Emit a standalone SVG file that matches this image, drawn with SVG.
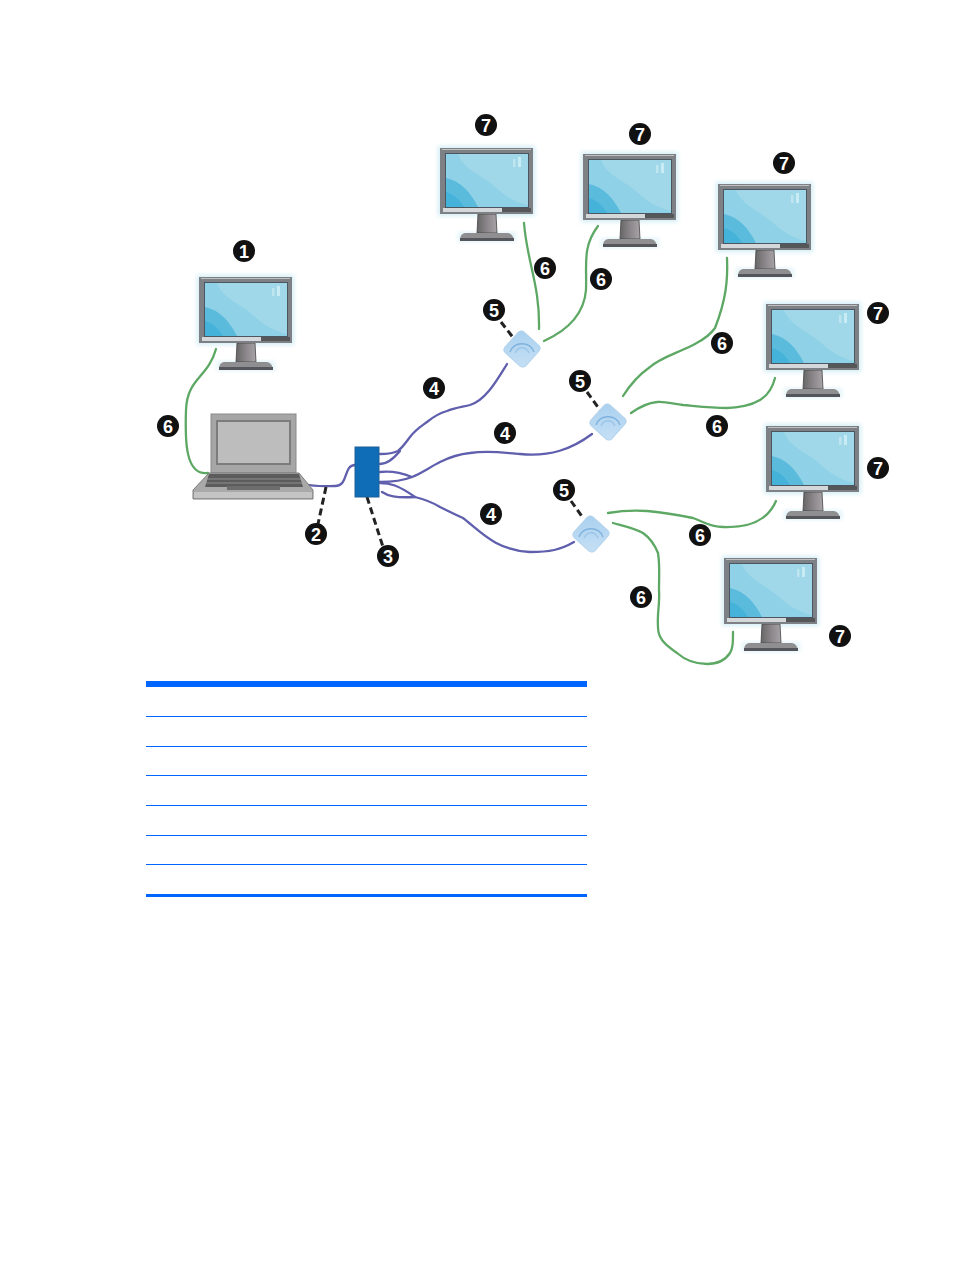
<svg xmlns="http://www.w3.org/2000/svg" width="954" height="1270" viewBox="0 0 954 1270">
<style>
.green{fill:none;stroke:#5da864;stroke-width:2.3;stroke-linecap:round}
.purple{fill:none;stroke:#5f5fae;stroke-width:2.3;stroke-linecap:round}
.dash{fill:none;stroke:#222;stroke-width:3;stroke-dasharray:7 4}
.badge circle{fill:#111}
.badge text{fill:#fff;font-family:"Liberation Sans",Arial,sans-serif;font-weight:bold;font-size:18px;text-anchor:middle}
.rule{fill:#0066ff}
</style>
<defs>
<filter id="blur" x="-20%" y="-20%" width="140%" height="140%"><feGaussianBlur stdDeviation="2"/></filter>
<filter id="soft" x="-10%" y="-10%" width="120%" height="120%"><feGaussianBlur stdDeviation="0.6"/></filter>
<linearGradient id="neck" x1="0" x2="1" y1="0" y2="0"><stop offset="0" stop-color="#666"/><stop offset="0.5" stop-color="#8b8689"/><stop offset="1" stop-color="#a8a3a6"/></linearGradient>
<linearGradient id="ap" x1="0" x2="1" y1="0" y2="1"><stop offset="0" stop-color="#a9d0ef"/><stop offset="1" stop-color="#c6e0f5"/></linearGradient>
<g id="monitor">
<rect x="-2" y="-2" width="97" height="70" fill="#a9dcec" opacity="0.5" filter="url(#blur)"/>
<rect x="18" y="84" width="58" height="10" fill="#a9dcec" opacity="0.35" filter="url(#blur)"/>
<g filter="url(#soft)">
<path d="M38 66H56L57 85H37Z" fill="url(#neck)" stroke="#444" stroke-width="0.8"/>
<path d="M20 92Q20 86 25 85H68Q73 86 74 92Z" fill="#8f8f92"/>
<rect x="20" y="90" width="54" height="3" fill="#55575b"/>
<rect x="0" y="0" width="93" height="66" fill="#7d8185"/>
<rect x="2" y="1" width="89" height="1" fill="#c0c0c0"/>
<rect x="5" y="5" width="84" height="55" fill="#4b5660"/>
<rect x="6" y="6" width="82" height="53" fill="#8fd1e6"/>
<path d="M18 6C24 22 42 27 54 38C64 47 72 53 88 57V6Z" fill="#a0d8e9"/>
<path d="M6 30C22 34 30 44 38 59H6Z" fill="#5abbdd"/>
<path d="M6 44C14 46 20 52 24 59H6Z" fill="#45b2da"/>
<rect x="73" y="11" width="2.5" height="8" fill="#bfe5f0"/><rect x="78" y="9" width="3" height="10" fill="#c9ebf3"/>
<rect x="3" y="60" width="59" height="4" fill="#d5d8da"/>
<rect x="62" y="60" width="29" height="4" fill="#545659"/>
</g>
</g>
<g id="apd">
<rect x="-14" y="-14" width="28" height="28" rx="4" transform="rotate(42)" fill="url(#ap)" stroke="#b4d3ec" stroke-width="1"/>
<path d="M-12 3C-8 -8 8 -8 12 3" fill="none" stroke="#7fb2de" stroke-width="1.3"/>
<path d="M-7 4C-4 -3 4 -3 7 4" fill="none" stroke="#9cc5e8" stroke-width="1.3"/>
</g>
</defs>

<g id="connectors">
<path class="green" d="M216 349C208 378 187 378 186 410C185 440 185 476 208 473"/>
<path class="green" d="M524 223C527 262 540 285 539 329"/>
<path class="green" d="M598 226C582 247 587 265 586 290C584 315 566 331 544 341"/>
<path class="green" d="M727 258C728 280 726 300 715 328C708 338 700 341 693 345C675 354 660 358 650 367C637 376 630 385 623 396"/>
<path class="green" d="M775 378C772 390 765 397 760 400C750 406 740 407 727 408C710 408 695 406 683 405C670 403 662 401 657 402C646 403 638 408 631 413"/>
<path class="green" d="M776 501C768 520 750 528 723 527C710 527 702 521 693 518C678 515 660 512 647 511C632 510 620 511 608 513"/>
<path class="green" d="M733 632C733 642 733 648 730 653C724 662 716 664 707 664C695 664 685 660 677 653C664 644 658 638 658 627C657 612 660 605 659 590C659 575 660 565 658 553C654 543 650 538 643 533C634 528 624 526 613 523"/>
<path class="purple" d="M305 484C315 487 325 486 335 486C349 486 343 465 355 465"/>
<path class="purple" d="M380 454C388 454 394 453 398 451C404 446 406 442 410 437C415 430 420 427 427 422C433 417 440 413 447 411C454 408 462 407 470 405C486 400 497 380 507 364"/>
<path class="purple" d="M380 464C388 464 394 458 400 451"/>
<path class="purple" d="M380 472C388 471 397 471 412 477"/>
<path class="purple" d="M380 482C392 482 402 481 412 477C422 473 430 467 440 462C450 457 460 454 470 453C490 450 505 453 520 454C550 457 572 449 592 434"/>
<path class="purple" d="M380 483C390 483 398 485 415 497"/>
<path class="purple" d="M382 492C388 496 395 498 415 497C423 499 432 502 440 507C450 512 456 515 463 518C480 531 495 550 530 552C550 552 560 550 574 542"/>
<path class="dash" d="M326 487L318 524"/>
<path class="dash" d="M367 497L383 547"/>
<path class="dash" d="M501 322L515 340"/>
<path class="dash" d="M587 392L600 410"/>
<path class="dash" d="M571 501L583 518"/>
</g>

<g id="monitor-host"><use href="#monitor" x="199" y="277"/></g>
<g id="monitor-a"><use href="#monitor" x="440" y="148"/></g>
<g id="monitor-b"><use href="#monitor" x="583" y="154"/></g>
<g id="monitor-c"><use href="#monitor" x="718" y="184"/></g>
<g id="monitor-d"><use href="#monitor" x="766" y="304"/></g>
<g id="monitor-e"><use href="#monitor" x="766" y="426"/></g>
<g id="monitor-f"><use href="#monitor" x="724" y="558"/></g>

<g id="laptop" filter="url(#soft)">
<rect x="211" y="414" width="85" height="59" fill="#a6a6a6" stroke="#8a8a8a"/>
<rect x="216" y="420" width="75" height="45" fill="#7b7b7b"/>
<rect x="218" y="422" width="71" height="41" fill="#bdbdbd"/>
<path d="M209 473H299L313 490V499H193V490Z" fill="#a9a9a9" stroke="#7d7d7d"/>
<path d="M209 474H299L303 487H205Z" fill="#5b5b5b"/>
<path d="M207 479H301M206 483H302" stroke="#a0a0a0" stroke-width="0.8"/>
<rect x="227" y="486" width="53" height="4" fill="#6d6d6d"/>
<rect x="194" y="492" width="118" height="6" fill="#c4c4c4"/>
</g>

<g id="hub"><rect x="355" y="447" width="24" height="50" fill="#0f6cb6" stroke="#1f5e96"/></g>

<g id="ap-a"><use href="#apd" x="522" y="349"/></g>
<g id="ap-b"><use href="#apd" x="608" y="422"/></g>
<g id="ap-c"><use href="#apd" x="591" y="534"/></g>

<g id="callouts" class="badge">
<g><circle cx="244" cy="251" r="11"/><text x="244" y="257.500">1</text></g>
<g><circle cx="316" cy="534" r="11"/><text x="316" y="540.500">2</text></g>
<g><circle cx="388" cy="556" r="11"/><text x="388" y="562.500">3</text></g>
<g><circle cx="434" cy="388" r="11"/><text x="434" y="394.500">4</text></g>
<g><circle cx="505" cy="433" r="11"/><text x="505" y="439.500">4</text></g>
<g><circle cx="491" cy="514" r="11"/><text x="491" y="520.500">4</text></g>
<g><circle cx="494" cy="310" r="11"/><text x="494" y="316.500">5</text></g>
<g><circle cx="580" cy="381" r="11"/><text x="580" y="387.500">5</text></g>
<g><circle cx="564" cy="490" r="11"/><text x="564" y="496.500">5</text></g>
<g><circle cx="168" cy="426" r="11"/><text x="168" y="432.500">6</text></g>
<g><circle cx="545" cy="268" r="11"/><text x="545" y="274.500">6</text></g>
<g><circle cx="601" cy="279" r="11"/><text x="601" y="285.500">6</text></g>
<g><circle cx="722" cy="343" r="11"/><text x="722" y="349.500">6</text></g>
<g><circle cx="717" cy="426" r="11"/><text x="717" y="432.500">6</text></g>
<g><circle cx="700" cy="535" r="11"/><text x="700" y="541.500">6</text></g>
<g><circle cx="641" cy="597" r="11"/><text x="641" y="603.500">6</text></g>
<g><circle cx="486" cy="125" r="11"/><text x="486" y="131.500">7</text></g>
<g><circle cx="640" cy="134" r="11"/><text x="640" y="140.500">7</text></g>
<g><circle cx="784" cy="163" r="11"/><text x="784" y="169.500">7</text></g>
<g><circle cx="878" cy="313" r="11"/><text x="878" y="319.500">7</text></g>
<g><circle cx="878" cy="468" r="11"/><text x="878" y="474.500">7</text></g>
<g><circle cx="840" cy="636" r="11"/><text x="840" y="642.500">7</text></g>
</g>

<g id="table-rules">
<rect class="rule" x="146" y="681" width="441" height="6"/>
<rect class="rule" x="146" y="716" width="441" height="1"/>
<rect class="rule" x="146" y="746" width="441" height="1"/>
<rect class="rule" x="146" y="775" width="441" height="1"/>
<rect class="rule" x="146" y="805" width="441" height="1"/>
<rect class="rule" x="146" y="835" width="441" height="1"/>
<rect class="rule" x="146" y="864" width="441" height="1"/>
<rect class="rule" x="146" y="894" width="441" height="3"/>
</g>
</svg>
